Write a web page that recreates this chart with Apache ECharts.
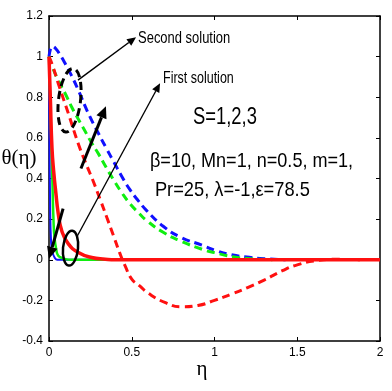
<!DOCTYPE html>
<html>
<head>
<meta charset="utf-8">
<script src="https://cdn.jsdelivr.net/npm/echarts@6/dist/echarts.min.js"></script>
<style>
  html, body { margin: 0; padding: 0; background: #fff; }
  #chart { width: 392px; height: 391px; }
</style>
</head>
<body>
<div id="chart"></div>
<script>
// ---- data (eta, theta) ----
const xTicks = [0, 0.5, 1, 1.5, 2];
const yTicks = [-0.4, -0.2, 0, 0.2, 0.4, 0.6, 0.8, 1, 1.2];

// second solution (dashed)
const etaBlueDash = [0, 0.01, 0.02, 0.04, 0.07, 0.097, 0.137, 0.177, 0.238, 0.3, 0.349, 0.389, 0.44, 0.489, 0.54, 0.59, 0.69, 0.79, 0.93, 1.01, 1.1, 1.21, 1.3, 1.43];
const thBlueDash  = [1.0, 1.04, 1.05, 1.04, 1.005, 0.967, 0.905, 0.835, 0.72, 0.62, 0.545, 0.485, 0.41, 0.345, 0.29, 0.242, 0.165, 0.113, 0.07, 0.045, 0.025, 0.012, 0.005, 0];
const etaGreenDash = [0, 0.02, 0.056, 0.1, 0.137, 0.175, 0.215, 0.258, 0.3, 0.345, 0.389, 0.44, 0.489, 0.54, 0.59, 0.69, 0.79, 0.93, 1.0, 1.11, 1.2, 1.35];
const thGreenDash  = [1.0, 0.95, 0.884, 0.815, 0.752, 0.695, 0.637, 0.575, 0.52, 0.455, 0.395, 0.33, 0.276, 0.232, 0.193, 0.135, 0.094, 0.05, 0.035, 0.015, 0.006, 0];
const etaRedDash = [0, 0.02, 0.056, 0.117, 0.177, 0.22, 0.268, 0.31, 0.349, 0.39, 0.429, 0.46, 0.5, 0.55, 0.6, 0.7, 0.8, 0.9, 1.0, 1.1, 1.2, 1.3, 1.41, 1.5, 1.62, 1.75, 1.88];
const thRedDash  = [1.0, 0.96, 0.868, 0.72, 0.571, 0.48, 0.385, 0.295, 0.209, 0.118, 0.03, -0.03, -0.095, -0.13, -0.165, -0.21, -0.232, -0.225, -0.2, -0.17, -0.137, -0.1, -0.054, -0.025, -0.004, 0.002, 0];

// first solution (solid)
const etaBlueSolid = [0, 0.003, 0.007, 0.012, 0.02, 0.036, 0.05, 2];
const thBlueSolid  = [1.0, 0.6, 0.25, 0.1, 0.04, 0.008, 0, 0];
const etaGreenSolid = [0, 0.01, 0.02, 0.027, 0.033, 0.045, 0.056, 0.08, 0.1, 0.13, 2];
const thGreenSolid  = [1.0, 0.7, 0.4, 0.2, 0.11, 0.045, 0.02, 0.008, 0.003, 0, 0];
const etaRedSolid = [0, 0.008, 0.018, 0.03, 0.04, 0.056, 0.077, 0.117, 0.177, 0.258, 0.34, 0.4, 2];
const thRedSolid  = [1.0, 0.8, 0.55, 0.42, 0.34, 0.227, 0.143, 0.078, 0.036, 0.011, 0.003, 0, 0];

// annotations, in data units
const textNotes = [
  { t: 'Second solution', x: 0.538, y: 1.089, size: 16, sx: 0.81 },
  { t: 'First solution', x: 0.689, y: 0.894, size: 16, sx: 0.78 },
  { t: 'S=1,2,3', x: 0.870, y: 0.701, size: 23, sx: 0.8 },
  { t: 'β=10, Mn=1, n=0.5, m=1,', x: 0.61, y: 0.484, size: 21, sx: 0.86 },
  { t: 'Pr=25, λ=-1,ε=78.5', x: 0.640, y: 0.341, size: 21, sx: 0.87 }
];
const arrows = [
  { from: [0.175, 0.884], to: [0.526, 1.096], w: 1.5, head: 9 },
  { from: [0.169, 0.114], to: [0.671, 0.869], w: 1.2, head: 9 },
  { from: [0.193, 0.449], to: [0.344, 0.756], w: 3, head: 12 },
  { from: [0.085, 0.252], to: [0.0, 0.005], w: 3, head: 12 }
];
const ellipses = [
  { c: [0.124, 0.785], rx: 11, ry: 32, rot: -0.12, dash: [8, 5], w: 3 },
  { c: [0.13, 0.057], rx: 7.5, ry: 17.5, rot: -0.1, dash: null, w: 2.5 }
];

function pairs(xs, ys) { return xs.map((x, i) => [x, ys[i]]); }

const chart = echarts.init(document.getElementById('chart'));

function line(data, color, dashed, width, z) {
  return {
    type: 'line',
    data: data,
    showSymbol: false,
    smooth: 0.5,
    lineStyle: { color: color, width: width, type: dashed ? [8, 5] : 'solid', cap: 'butt', join: 'round' },
    z: z
  };
}

const axisBase = {
  type: 'value',
  axisLine: { show: true, onZero: false, lineStyle: { color: '#000', width: 1.5 } },
  axisTick: { show: true, inside: true, length: 4, lineStyle: { color: '#000' } },
  splitLine: { show: false },
  axisLabel: { color: '#000', fontSize: 12, fontFamily: 'Liberation Sans' }
};

const option = {
  backgroundColor: '#fff',
  animation: false,
  grid: { left: 49, right: 12, top: 16, bottom: 50 },
  xAxis: [
    Object.assign({}, axisBase, { position: 'bottom', min: 0, max: 2, interval: 0.5,
      axisLabel: Object.assign({}, axisBase.axisLabel, { margin: 6 }) }),
    Object.assign({}, axisBase, { position: 'top', min: 0, max: 2, interval: 0.5,
      axisLabel: { show: false } })
  ],
  yAxis: [
    Object.assign({}, axisBase, { position: 'left', min: -0.4, max: 1.2, interval: 0.2,
      axisLabel: Object.assign({}, axisBase.axisLabel, { margin: 6 }) }),
    Object.assign({}, axisBase, { position: 'right', min: -0.4, max: 1.2, interval: 0.2,
      axisLabel: { show: false } })
  ],
  series: [
    line(pairs(etaBlueDash, thBlueDash), '#1010ff', true, 3, 2),
    line(pairs(etaGreenDash, thGreenDash), '#10ee10', true, 3, 2),
    line(pairs(etaRedDash, thRedDash), '#ff1010', true, 3, 2),
    line(pairs(etaBlueSolid, thBlueSolid), '#1010ff', false, 2, 3),
    line(pairs(etaGreenSolid, thGreenSolid), '#10ee10', false, 2.5, 3),
    line(pairs(etaRedSolid, thRedSolid), '#ff1010', false, 3.5, 4)
  ]
};
chart.setOption(option);

// annotations placed through the axes' own scale
function px(p) { return chart.convertToPixel({ gridIndex: 0 }, p); }
const g = [];
textNotes.forEach(n => {
  const p = px([n.x, n.y]);
  g.push({ type: 'text', x: p[0], y: p[1], scaleX: n.sx, z: 10,
    style: { text: n.t, fontSize: n.size, fontFamily: 'Liberation Sans', fill: '#000',
      textAlign: 'left', textVerticalAlign: 'middle' } });
});
arrows.forEach(a => {
  const p0 = px(a.from), p1 = px(a.to);
  const ang = Math.atan2(p1[1] - p0[1], p1[0] - p0[0]);
  const h = a.head, hw = h * 0.45;
  const bx = p1[0] - h * Math.cos(ang), by = p1[1] - h * Math.sin(ang);
  g.push({ type: 'line', z: 10, shape: { x1: p0[0], y1: p0[1], x2: bx, y2: by },
    style: { stroke: '#000', lineWidth: a.w } });
  g.push({ type: 'polygon', z: 10, shape: { points: [
      [p1[0], p1[1]],
      [bx + hw * Math.sin(ang), by - hw * Math.cos(ang)],
      [bx - hw * Math.sin(ang), by + hw * Math.cos(ang)]
    ] }, style: { fill: '#000' } });
});
ellipses.forEach(e => {
  const p = px(e.c);
  g.push({ type: 'ellipse', z: 10, x: p[0], y: p[1], rotation: e.rot,
    shape: { cx: 0, cy: 0, rx: e.rx, ry: e.ry },
    style: { fill: 'none', stroke: '#000', lineWidth: e.w, lineDash: e.dash } });
});
// axis titles
g.push({ type: 'text', x: 19, y: 158, z: 10,
  style: { text: 'θ(η)', fontSize: 21, fontFamily: 'Liberation Serif', fill: '#000',
    textAlign: 'center', textVerticalAlign: 'middle' } });
g.push({ type: 'text', x: 202, y: 369, z: 10,
  style: { text: 'η', fontSize: 21, fontFamily: 'Liberation Serif', fill: '#000',
    textAlign: 'center', textVerticalAlign: 'middle' } });
chart.setOption({ graphic: g });
</script>
</body>
</html>
